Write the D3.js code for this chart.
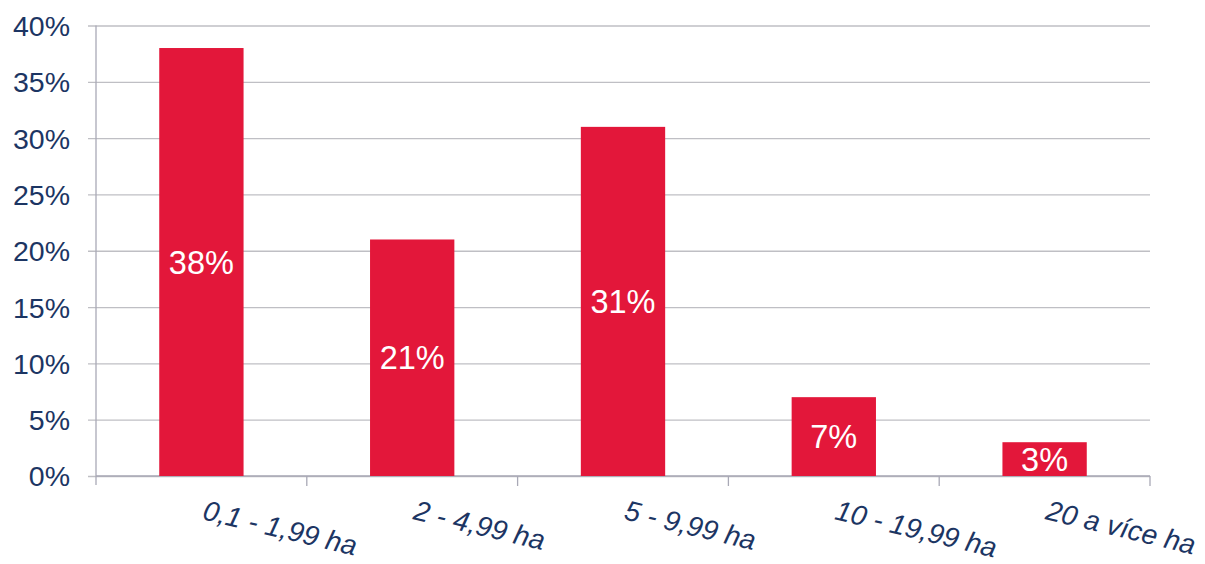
<!DOCTYPE html>
<html>
<head>
<meta charset="utf-8">
<script src="https://cdn.jsdelivr.net/npm/d3@7/dist/d3.min.js"></script>
<style>
  html, body { margin: 0; padding: 0; background: #ffffff; }
  svg { display: block; }
</style>
</head>
<body>
<svg id="chart" width="1205" height="564"></svg>
<script>
const categories = ["0,1 - 1,99 ha", "2 - 4,99 ha", "5 - 9,99 ha", "10 - 19,99 ha", "20 a více ha"];
const values = [38, 21, 31, 7, 3];
const yTicks = [0, 5, 10, 15, 20, 25, 30, 35, 40];

const svg = d3.select("#chart");
const mLeft = 96, mRight = 1150, mTop = 25.5, mBottom = 476;
const textColor = "#1c3563";
const gridColor = "#bfbfc4";
const axisColor = "#a9a9b6";
const barColor = "#e3173a";

const x = d3.scaleBand().domain(categories).range([mLeft, mRight]).paddingInner(0.6).paddingOuter(0.3);
const xb = d3.scaleBand().domain(categories).range([mLeft, mRight]).padding(0);
const y = d3.scaleLinear().domain([0, 40]).range([mBottom, mTop]);

// gridlines + y ticks
const yAxis = d3.axisLeft(y).tickValues(yTicks).tickFormat(d => d + "%").tickSize(-(mRight - mLeft)).tickSizeOuter(0);
const gy = svg.append("g").attr("transform", `translate(${mLeft},0)`).call(yAxis);
gy.select(".domain").remove();
gy.selectAll(".tick line").attr("stroke", gridColor).attr("stroke-width", 1.3).attr("x1", -8);
gy.selectAll(".tick text")
  .attr("x", -26)
  .attr("fill", textColor)
  .attr("font-family", "'Liberation Sans', Arial, sans-serif")
  .attr("font-size", 28.5)
  .attr("dy", "0.35em");

// y axis line
svg.append("line")
  .attr("x1", mLeft).attr("x2", mLeft)
  .attr("y1", y(40)).attr("y2", mBottom + 9)
  .attr("stroke", axisColor).attr("stroke-width", 1.3);

// x axis baseline and ticks at band boundaries
svg.append("line")
  .attr("x1", mLeft).attr("x2", mRight)
  .attr("y1", mBottom).attr("y2", mBottom)
  .attr("stroke", axisColor).attr("stroke-width", 1.3);
const boundaries = categories.map(c => xb(c)).concat([xb(categories[categories.length - 1]) + xb.bandwidth()]);
svg.append("g").selectAll("line").data(boundaries.slice(1)).join("line")
  .attr("x1", d => d).attr("x2", d => d)
  .attr("y1", mBottom).attr("y2", mBottom + 10)
  .attr("stroke", axisColor).attr("stroke-width", 1.3);

// bars
svg.append("g").selectAll("rect").data(values).join("rect")
  .attr("x", (d, i) => x(categories[i]))
  .attr("width", x.bandwidth())
  .attr("y", d => y(d))
  .attr("height", d => mBottom - y(d))
  .attr("fill", barColor);

// bar labels
svg.append("g").selectAll("text").data(values).join("text")
  .attr("x", (d, i) => x(categories[i]) + x.bandwidth() / 2)
  .attr("y", d => (y(d) + mBottom) / 2)
  .attr("dy", "0.36em")
  .attr("text-anchor", "middle")
  .attr("fill", "#ffffff")
  .attr("font-family", "'Liberation Sans', Arial, sans-serif")
  .attr("font-size", 32.5)
  .text(d => d + "%");

// category labels, rotated
svg.append("g").selectAll("text").data(categories).join("text")
  .attr("transform", d => `translate(${xb(d) + xb.bandwidth() / 2},${mBottom + 43}) rotate(13.5)`)
  .attr("text-anchor", "start")
  .attr("fill", textColor)
  .attr("font-family", "'Liberation Sans', Arial, sans-serif")
  .attr("font-style", "italic")
  .attr("font-size", 28)
  .text(d => d);
</script>
</body>
</html>
